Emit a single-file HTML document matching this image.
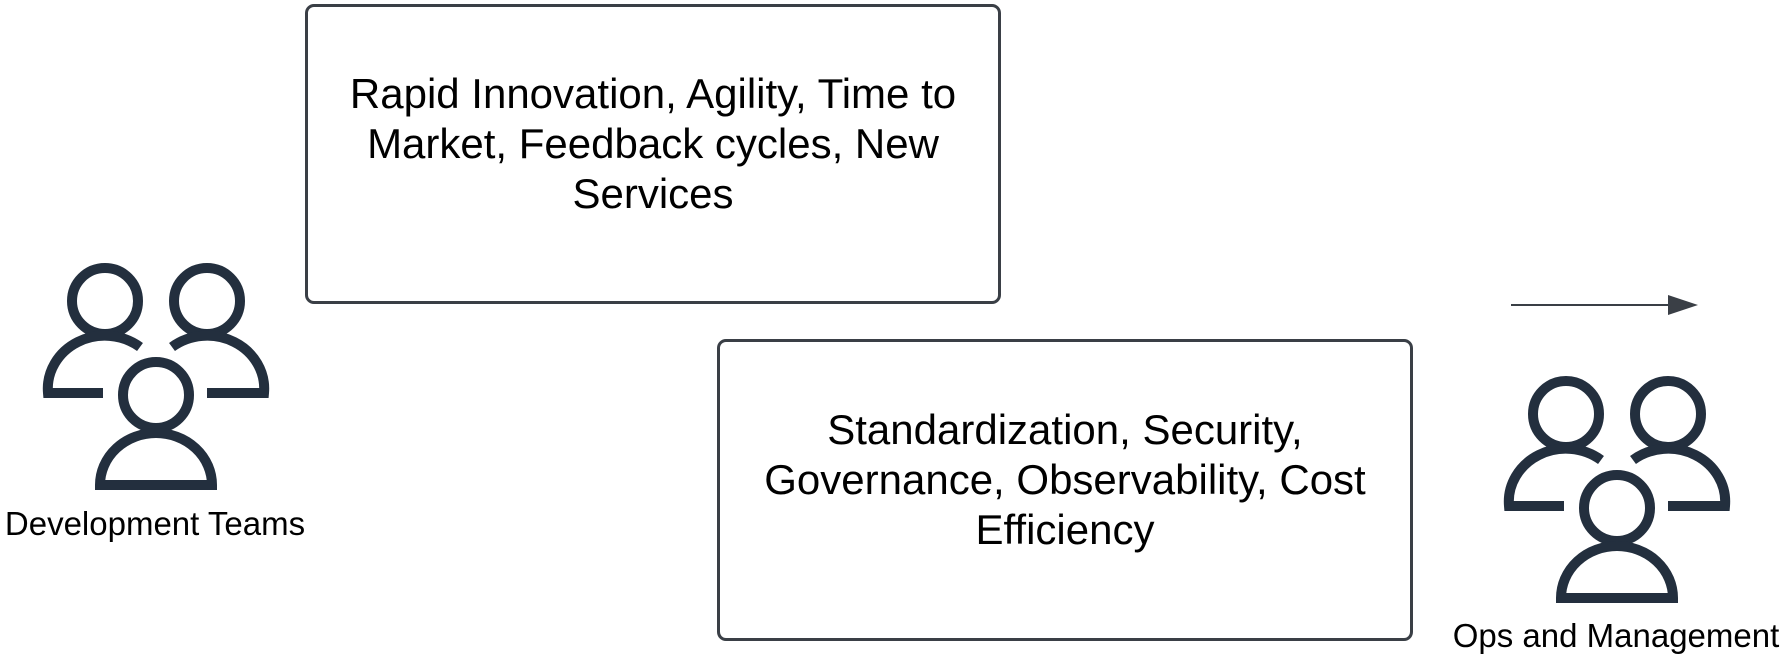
<!DOCTYPE html>
<html><head><meta charset="utf-8"><style>
html,body{margin:0;padding:0;background:#fff;}
body{width:1787px;height:658px;overflow:hidden;position:relative;font-family:"Liberation Sans",sans-serif;}
.box{position:absolute;border:3px solid #3a3f46;border-radius:9px;box-sizing:border-box;display:flex;align-items:center;justify-content:center;text-align:center;font-size:42px;line-height:50px;color:#000;padding-bottom:20px;}
.lbl{position:absolute;font-size:33px;color:#000;white-space:nowrap;transform:translate(-50%,-50%);}
</style></head><body>
<div class="box" style="left:305px;top:4px;width:696px;height:300px;">Rapid Innovation, Agility, Time to<br>Market, Feedback cycles, New<br>Services</div>
<div class="box" style="left:717px;top:339px;width:696px;height:302px;">Standardization, Security,<br>Governance, Observability, Cost<br>Efficiency</div>
<svg width="1787" height="658" style="position:absolute;left:0;top:0">
<defs>
<g id="ppl" fill="none" stroke="#232f3e" stroke-width="10">
<circle cx="105" cy="301" r="33"/>
<circle cx="207" cy="301" r="33"/>
<path d="M103 393 H48 A57 53 0 0 1 140 347"/>
<path d="M207 393 H264 A57 53 0 0 0 172 347"/>
<circle cx="156" cy="395" r="33"/>
<path d="M100 485 A56 52 0 0 1 212 485 Z"/>
</g>
</defs>
<use href="#ppl"/>
<use href="#ppl" transform="translate(1461,113)"/>
<line x1="1511" y1="305" x2="1672" y2="305" stroke="#3a3f46" stroke-width="2"/>
<polygon points="1668,295 1698,305 1668,315" fill="#3a3f46"/>
</svg>
<div class="lbl" style="left:155px;top:524px;">Development Teams</div>
<div class="lbl" style="left:1616px;top:636px;">Ops and Management</div>
</body></html>
